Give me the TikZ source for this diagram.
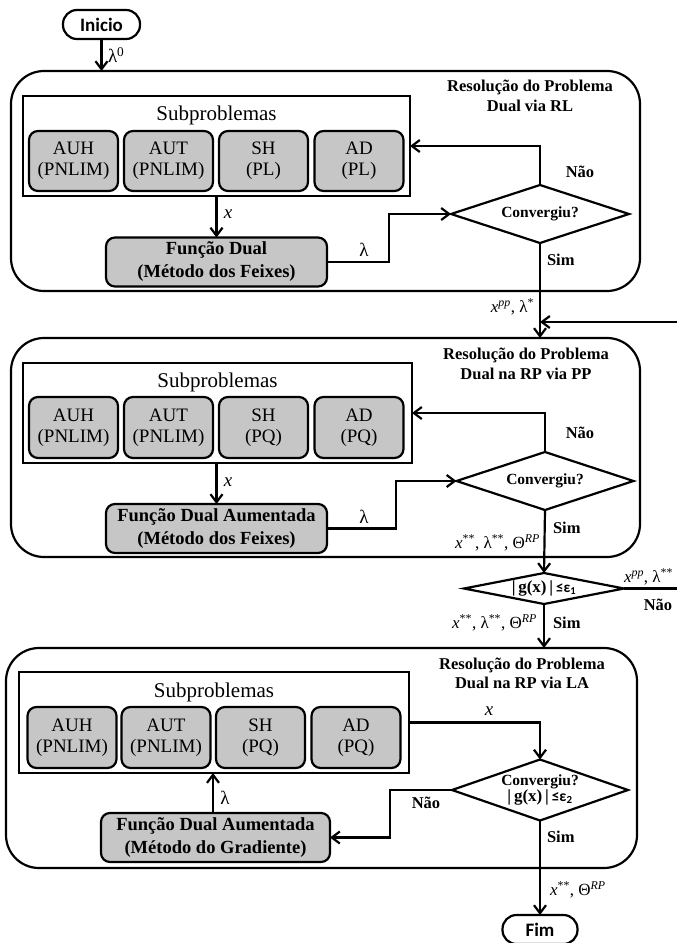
\documentclass[tikz,border=0pt]{standalone}
\usepackage{fontspec}
\setmainfont{Liberation Serif}
\setsansfont{Carlito}
\usetikzlibrary{arrows.meta,shapes.geometric}
\definecolor{boxgray}{RGB}{198,198,198}
\newcommand{\vx}{\textit{x}}
\newcommand{\sps}[1]{\textsuperscript{#1}}
\begin{document}
\begin{tikzpicture}[x=1pt,y=-1pt,
  every node/.style={inner sep=0pt,outer sep=0pt},
  ln/.style={line width=2.2pt},
  arr/.style={line width=2.2pt,-{Straight Barb[length=8pt,width=12pt]}},
  big/.style={draw,line width=2.2pt,rounded corners=33pt},
  subbox/.style={draw,line width=2.2pt},
  sm/.style={draw,fill=boxgray,line width=2.2pt,rounded corners=9pt,minimum width=89pt,minimum height=60pt,align=center,font=\fontsize{19}{21}\selectfont},
  fun/.style={draw,fill=boxgray,line width=2.2pt,rounded corners=9pt,minimum height=49pt,align=center,font=\bfseries\fontsize{18.5}{23}\selectfont},
  dia/.style={draw,diamond,line width=2.2pt,align=center,font=\bfseries\fontsize{15.5}{16}\selectfont},
  term/.style={draw,line width=2.2pt,rounded corners=14pt,minimum width=77pt,minimum height=29pt,font=\sffamily\bfseries\fontsize{19}{20}\selectfont},
  ttl/.style={align=center,font=\bfseries\fontsize{16.5}{19.5}\selectfont},
  yn/.style={font=\bfseries\fontsize{16.5}{18}\selectfont},
  lab/.style={font=\fontsize{17}{18}\selectfont},
  lab1/.style={font=\fontsize{19}{20}\selectfont},
  sublab/.style={font=\fontsize{21}{24}\selectfont}
]
\useasboundingbox (0,0) rectangle (677,943);

% ---------- start ----------
\node[term] (ini) at (101.5,24.5) {Inicio};

% ---------- block 1 ----------
\node[big,minimum width=629pt,minimum height=220pt] (B1) at (325.5,181) {};
\node[ttl] (T1) at (530,96) {Resolução do Problema\\Dual via RL};
\node[subbox,minimum width=387pt,minimum height=100pt] (S1) at (216.5,146) {};
\node[sublab] (SL1) at (216.5,115) {Subproblemas};
\node[sm] (a1) at (73.5,161) {AUH\\(PNLIM)};
\node[sm] (b1) at (168.5,161) {AUT\\(PNLIM)};
\node[sm] (c1) at (263.5,161) {SH\\(PL)};
\node[sm] (d1) at (359,161) {AD\\(PL)};
\node[fun,minimum width=221pt] (F1) at (216.5,262) {Função Dual\\(Método dos Feixes)};
\node[dia,minimum width=178pt,minimum height=58pt,aspect=3] (D1) at (540,214) {Convergiu?};

\draw[arr] (ini.south) -- (ini.south |- B1.north);
\node[lab1,anchor=west] (l0) at (108,55) {λ\sps{0}};
\draw[arr] (S1.south) -- (F1.north);
\node[lab1] (lx1) at (228,214) {\vx};
\draw[arr] (F1.east) -- (389,262) |- (D1.west);
\node[lab1] (ll1) at (364,250) {λ};
\draw[arr] (D1.north) |- (S1.east);
\node[yn] (n1) at (580,172) {Não};
\node[yn,anchor=west] (s1) at (547,260) {Sim};

% ---------- block 2 ----------
\node[big,minimum width=629pt,minimum height=219pt] (B2) at (325.5,447.5) {};
\draw[arr] (D1.south) -- (D1.south |- B2.north);
\node[lab,anchor=east] (o1) at (534,307) {\vx\sps{\textit{pp}}, λ\sps{*}};
\coordinate (fbR1) at (677,322);
\draw[arr] (fbR1) -- (fbR1 -| D1.south);

\node[ttl] (T2) at (526,364) {Resolução do Problema\\Dual na RP via PP};
\node[subbox,minimum width=389pt,minimum height=100pt] (S2) at (217.5,413) {};
\node[sublab] (SL2) at (217.5,382) {Subproblemas};
\node[sm,minimum height=61pt] (a2) at (73.5,427.5) {AUH\\(PNLIM)};
\node[sm,minimum height=61pt] (b2) at (168.5,427.5) {AUT\\(PNLIM)};
\node[sm,minimum height=61pt] (c2) at (263.5,427.5) {SH\\(PQ)};
\node[sm,minimum height=61pt] (d2) at (359,427.5) {AD\\(PQ)};
\node[fun,minimum width=221pt] (F2) at (216.5,528.5) {Função Dual Aumentada\\(Método dos Feixes)};
\node[dia,minimum width=177pt,minimum height=58pt,aspect=3] (D2) at (545,481) {Convergiu?};

\draw[arr] (S2.south -| F2.north) -- (F2.north);
\node[lab1] (lx2) at (228,482) {\vx};
\draw[arr] (F2.east) -- (396,528.5) |- (D2.west);
\node[lab1] (ll2) at (364,517) {λ};
\draw[arr] (D2.north) |- (S2.east);
\node[yn] (n2) at (580,433) {Não};
\node[yn,anchor=west] (s2) at (553,528) {Sim};
\node[lab,anchor=east] (o2) at (540,543) {\vx\sps{**}, λ\sps{**}, Θ\sps{\textit{RP}}};

% ---------- check ----------
\node[dia,minimum width=160pt,minimum height=31pt,aspect=5,font=\bfseries\fontsize{17}{18}\selectfont] (D3) at (544,588.5) {|\,g(x)\,|\,{\sffamily\bfseries\fontsize{15}{16}\selectfont ≤ε\textsubscript{1}}};
\draw[arr] (D2.south) -- (D3.north);
\coordinate (fbR3) at (677,588.5);
\draw[ln] (D3.east) -- (fbR3);
\node[lab,anchor=west] (o3) at (624,577) {\vx\sps{\textit{pp}}, λ\sps{**}};
\node[yn] (n3) at (658,605) {Não};
\node[yn,anchor=west] (s3) at (553,623) {Sim};
\node[lab,anchor=east] (o4) at (537,623) {\vx\sps{**}, λ\sps{**}, Θ\sps{\textit{RP}}};

% ---------- block 3 ----------
\node[big,minimum width=631pt,minimum height=220pt] (B3) at (321.5,758) {};
\draw[arr] (D3.south) -- (D3.south |- B3.north);
\node[ttl] (T3) at (522,673.5) {Resolução do Problema\\Dual na RP via LA};
\node[subbox,minimum width=390pt,minimum height=101pt] (S3) at (214,722.5) {};
\node[sublab] (SL3) at (214,692) {Subproblemas};
\node[sm,minimum height=61pt] (a3) at (72,737.5) {AUH\\(PNLIM)};
\node[sm,minimum height=61pt] (b3) at (166,737.5) {AUT\\(PNLIM)};
\node[sm,minimum height=61pt] (c3) at (260.5,737.5) {SH\\(PQ)};
\node[sm,minimum height=61pt] (d3) at (356,737.5) {AD\\(PQ)};
\node[fun,minimum width=229pt] (F3) at (215.5,837.5) {Função Dual Aumentada\\(Método do Gradiente)};
\node[dia,minimum width=176pt,minimum height=61pt,aspect=3] (D4) at (540,790) {Convergiu?\\{\fontsize{17}{18}\selectfont|\,g(x)\,|\,}{\sffamily\bfseries ≤ε\textsubscript{2}}};

\draw[arr] (S3.east) -| (D4.north);
\node[lab1] (lx3) at (489,711) {\vx};
\draw[arr] (D4.west) -- (390,790) |- (F3.east);
\node[yn] (n4) at (426,803) {Não};
\draw[arr] (F3.north -| 213,0) -- (S3.south -| 213,0);
\node[lab1] (ll3) at (225,798) {λ};

% ---------- end ----------
\node[term,minimum width=75pt] (fim) at (540,929.5) {Fim};
\draw[arr] (D4.south) -- (fim.north);
\node[yn,anchor=west] (s4) at (547,837) {Sim};
\node[lab,anchor=west] (o5) at (550,890) {\vx\sps{**}, Θ\sps{\textit{RP}}};
\end{tikzpicture}
\end{document}
